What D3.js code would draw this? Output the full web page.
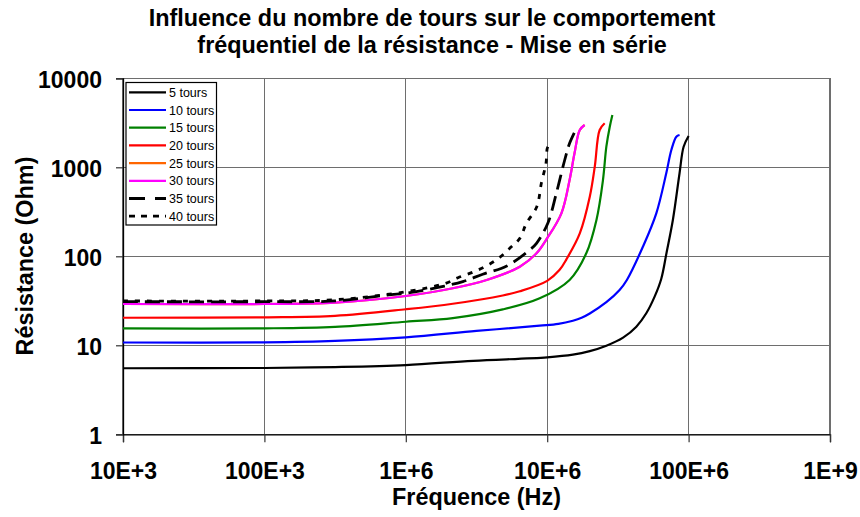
<!DOCTYPE html>
<html>
<head>
<meta charset="utf-8">
<script src="https://cdn.jsdelivr.net/npm/d3@7"></script>
<style>
  body { margin: 0; background: #fff; }
  text { font-family: "Liberation Sans", Arial, sans-serif; }
</style>
</head>
<body>
<svg id="chart" width="860" height="517"></svg>
<script>
// ---------- DATA ----------
const titleLines = ["Influence du nombre de tours sur le comportement",
                    "fréquentiel de la résistance - Mise en série"];
const xAxisTitle = "Fréquence (Hz)";
const yAxisTitle = "Résistance (Ohm)";

const xTickValues = [1e4, 1e5, 1e6, 1e7, 1e8, 1e9];
const xTickLabels = ["10E+3", "100E+3", "1E+6", "10E+6", "100E+6", "1E+9"];
const yTickValues = [1, 10, 100, 1000, 10000];
const yTickLabels = ["1", "10", "100", "1000", "10000"];

const seriesNames = ["5 tours", "10 tours", "15 tours", "20 tours",
                     "25 tours", "30 tours", "35 tours", "40 tours"];

const freq5  = [1e4, 1e5, 3.16e5, 1e6, 3e6, 1e7, 1.52e7, 2.0e7, 2.62e7, 3.44e7, 4.27e7, 5.02e7, 5.75e7, 6.41e7, 7.0e7, 7.74e7, 8.63e7, 9.22e7, 1.0e8];
const res5   = [5.52, 5.56, 5.7, 6.0, 6.7, 7.33, 7.85, 8.6, 9.9, 12.2, 16.2, 22.9, 35.2, 56, 112, 256, 857, 1703, 2248];

const freq10 = [1e4, 1e5, 3.16e5, 1e6, 3.16e6, 8.85e6, 1.2e7, 1.52e7, 1.75e7, 2.0e7, 2.62e7, 3.25e7, 3.66e7, 4.75e7, 5.91e7, 6.95e7, 7.55e7, 8.19e7, 8.63e7];
const res10  = [10.75, 10.8, 11.2, 12.3, 14.5, 16.6, 17.4, 18.9, 20.4, 22.8, 30.5, 41.8, 54.2, 128, 304, 857, 1564, 2207, 2306];

const freq15 = [1e4, 1e5, 3.16e5, 1e6, 2.15e6, 4.85e6, 8.85e6, 1.44e7, 1.89e7, 2.23e7, 2.48e7, 2.62e7, 2.77e7, 2.89e7];
const res15  = [15.5, 15.5, 16.1, 18.4, 20.2, 25.3, 33.7, 54.2, 108, 256, 720, 1703, 2858, 3870];

const freq20 = [1e4, 1e5, 3.16e5, 1e6, 2.15e6, 4.85e6, 6.4e6, 1e7, 1.22e7, 1.37e7, 1.70e7, 2.0e7, 2.17e7, 2.35e7, 2.55e7];
const res20  = [20.4, 20.6, 21.4, 25.4, 29.3, 36.3, 40.5, 53, 70, 93, 181, 467, 1016, 2624, 3121];

const freq25 = [1e4, 1e5, 3.16e5, 1e6, 2.15e6, 3.73e6, 6.40e6, 8.40e6, 1.0e7, 1.26e7, 1.44e7, 1.56e7, 1.70e7, 1.84e7];
const res25  = [29.1, 29.1, 30.1, 35.8, 43.7, 54.2, 76.4, 108, 160, 304, 720, 1436, 2624, 2988];

const freq30 = [1e4, 1e5, 3.16e5, 1e6, 2.15e6, 3.73e6, 6.40e6, 8.40e6, 1.0e7, 1.26e7, 1.44e7, 1.56e7, 1.70e7, 1.84e7];
const res30  = [29.1, 29.1, 30.1, 35.8, 43.7, 54.2, 76.4, 108, 160, 304, 720, 1436, 2624, 2988];

const freq35 = [1e4, 1e5, 3.16e5, 7.35e5, 1.07e6, 1.66e6, 2.53e6, 3.5e6, 5.18e6, 7.52e6, 8.4e6, 1.01e7, 1.16e7, 1.33e7, 1.44e7, 1.61e7];
const res35  = [30.9, 30.9, 31.5, 36.7, 39.0, 44.4, 52, 62.8, 77.8, 118, 140, 235, 510, 1208, 1862, 2742];

const freq40 = [1e4, 1e5, 3.16e5, 1e6, 1.91e6, 2.34e6, 2.96e6, 3.72e6, 4.61e6, 5.52e6, 6.4e6, 7.13e6, 8.44e6, 9.1e6, 9.8e6, 1.01e7, 1.09e7];
const res40  = [31.5, 31.5, 32.5, 40, 49.7, 57.5, 66, 78, 97, 126, 159, 235, 361, 666, 1100, 1703, 1940];

const seriesFreqs = [freq5, freq10, freq15, freq20, freq25, freq30, freq35, freq40];
const seriesRes   = [res5, res10, res15, res20, res25, res30, res35, res40];

// ---------- STYLE ----------
const seriesColors = ["#000000", "#0000FF", "#008000", "#FF0000", "#FF6600", "#FF00FF", "#000000", "#000000"];
const seriesDash   = [null, null, null, null, null, null, "15,7", "5,7"];
const legendDash   = [null, null, null, null, null, null, "16,10", "6,6"];
const seriesWidth  = [2.2, 2.2, 2.2, 2.2, 2.2, 2.2, 2.8, 2.8];

// ---------- LAYOUT ----------
const W = 860, H = 517;
const plot = { left: 123, right: 830, top: 78.3, bottom: 434.3 };
const gridColor = "#6e6e6e";
const fontSize = 23;
const titleSize = 23.4;

const svg = d3.select("#chart");
svg.append("rect").attr("width", W).attr("height", H).attr("fill", "#fff");

const x = d3.scaleLog().domain([1e4, 1e9]).range([plot.left, plot.right]);
const y = d3.scaleLog().domain([1, 1e4]).range([plot.bottom, plot.top]);

// grid lines
const grid = svg.append("g");
grid.selectAll("line.gx").data(xTickValues).join("line")
  .attr("x1", d => x(d)).attr("x2", d => x(d))
  .attr("y1", plot.top).attr("y2", plot.bottom)
  .attr("stroke", gridColor).attr("stroke-width", 1.2).attr("shape-rendering", "crispEdges");
grid.selectAll("line.gy").data(yTickValues).join("line")
  .attr("x1", plot.left).attr("x2", plot.right)
  .attr("y1", d => y(d)).attr("y2", d => y(d))
  .attr("stroke", gridColor).attr("stroke-width", 1.2).attr("shape-rendering", "crispEdges");

// axes
const xAxis = d3.axisBottom(x).tickValues(xTickValues)
  .tickFormat((d, i) => xTickLabels[i]).tickSize(8).tickPadding(20);
const yAxis = d3.axisLeft(y).tickValues(yTickValues)
  .tickFormat((d, i) => yTickLabels[i]).tickSize(7).tickPadding(14);

const gx = svg.append("g").attr("transform", `translate(0,${plot.bottom})`).call(xAxis);
const gy = svg.append("g").attr("transform", `translate(${plot.left},0)`).call(yAxis);
[gx, gy].forEach(g => {
  g.select(".domain").attr("stroke", "#000").attr("stroke-width", 1.3);
  g.selectAll(".tick line").attr("stroke", "#333").attr("stroke-width", 1.2);
  g.selectAll(".tick text")
    .attr("font-family", "'Liberation Sans', Arial, sans-serif")
    .attr("font-size", fontSize).attr("font-weight", "bold").attr("fill", "#000");
});
gy.selectAll(".tick text").attr("dy", "0.38em");

// series
const line = d3.line()
  .x(d => x(d[0])).y(d => y(d[1]))
  .curve(d3.curveCatmullRom.alpha(0.5));

const gSeries = svg.append("g");
seriesNames.forEach((name, i) => {
  const pts = seriesFreqs[i].map((f, j) => [f, seriesRes[i][j]]);
  const p = gSeries.append("path").datum(pts)
    .attr("d", line)
    .attr("fill", "none")
    .attr("stroke", seriesColors[i])
    .attr("stroke-width", seriesWidth[i])
    .attr("stroke-linejoin", "round");
  if (seriesDash[i]) p.attr("stroke-dasharray", seriesDash[i]);
});

// legend
const lg = svg.append("g");
const lgBox = { x: 126, y: 82.5, w: 90.5, h: 142.5 };
lg.append("rect").attr("x", lgBox.x).attr("y", lgBox.y)
  .attr("width", lgBox.w).attr("height", lgBox.h)
  .attr("fill", "#fff").attr("stroke", "#000").attr("stroke-width", 1.2);
seriesNames.forEach((name, i) => {
  const yy = 92.3 + i * 17.7;
  const l = lg.append("line").attr("x1", 129).attr("x2", 166)
    .attr("y1", yy).attr("y2", yy)
    .attr("stroke", seriesColors[i]).attr("stroke-width", seriesWidth[i]);
  if (legendDash[i]) l.attr("stroke-dasharray", legendDash[i]);
  lg.append("text").attr("x", 169).attr("y", yy + 4.5)
    .attr("font-size", 12.5).attr("fill", "#000").text(name);
});

// titles
const title = svg.append("text").attr("text-anchor", "middle")
  .attr("font-size", titleSize).attr("font-weight", "bold").attr("fill", "#000");
title.append("tspan").attr("x", 432).attr("y", 26).text(titleLines[0]);
title.append("tspan").attr("x", 432).attr("y", 53).text(titleLines[1]);

svg.append("text").attr("x", (plot.left + plot.right) / 2).attr("y", 505)
  .attr("text-anchor", "middle").attr("font-size", titleSize).attr("font-weight", "bold")
  .text(xAxisTitle);

svg.append("text")
  .attr("transform", `translate(33,256) rotate(-90)`)
  .attr("text-anchor", "middle").attr("font-size", titleSize).attr("font-weight", "bold")
  .text(yAxisTitle);
</script>
</body>
</html>
